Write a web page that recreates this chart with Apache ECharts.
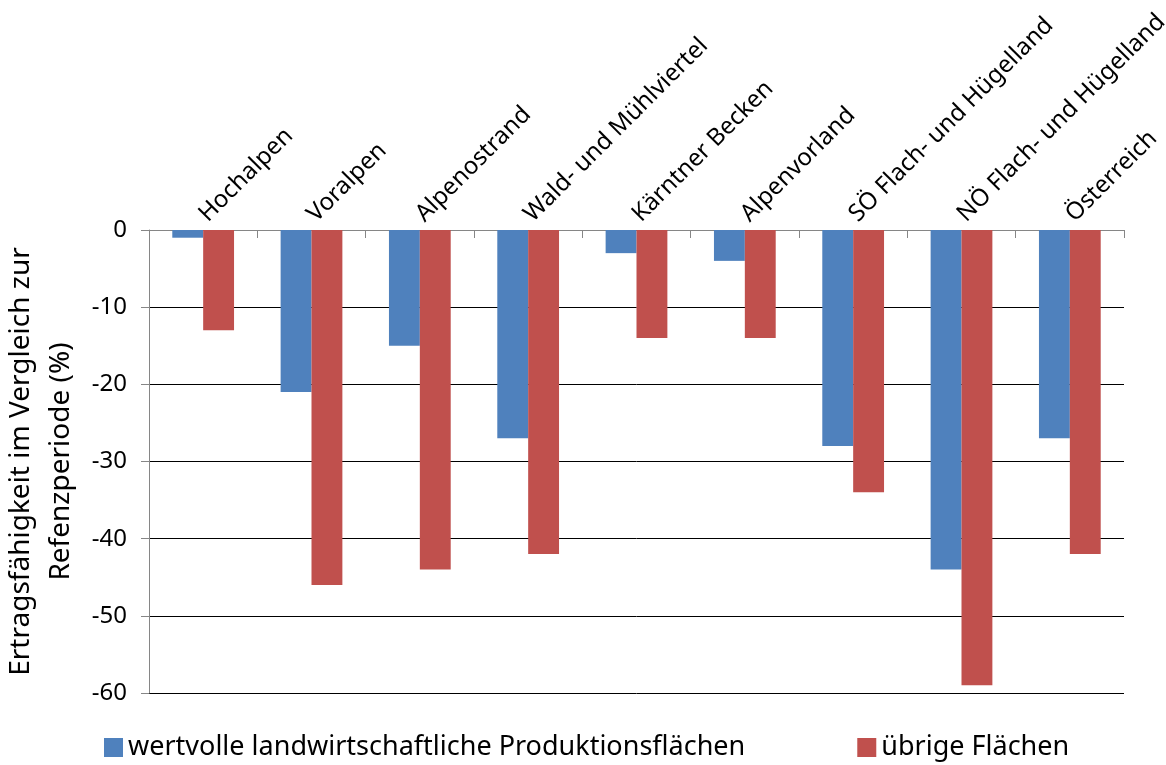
<!DOCTYPE html>
<html><head><meta charset="utf-8">
<script src="https://cdn.jsdelivr.net/npm/echarts@6/dist/echarts.min.js"></script>
<style>html,body{margin:0;padding:0;background:#fff}#c{width:1166px;height:765px}</style>
</head><body><div id="c"></div>
<script>
const categories = ['Hochalpen','Voralpen','Alpenostrand','Wald- und Mühlviertel','Kärntner Becken','Alpenvorland','SÖ Flach- und Hügelland','NÖ Flach- und Hügelland','Österreich'];
const seriesNames = ['wertvolle landwirtschaftliche Produktionsflächen','übrige Flächen'];
const valuable = [-1,-21,-15,-27,-3,-4,-28,-44,-27];
const other = [-13,-46,-44,-42,-14,-14,-34,-59,-42];
const yName = 'Ertragsfähigkeit im Vergleich zur\nRefenzperiode (%)';

const FONT = 'Noto Sans';
const chart = echarts.init(document.getElementById('c'));
chart.setOption({
  animation:false,
  textStyle:{fontFamily:FONT},
  grid:{left:149,right:42,top:230,bottom:72,containLabel:false,outerBoundsMode:'none'},
  legend:{left:99,top:729,icon:'rect',itemWidth:19,itemHeight:19,itemGap:112,
    textStyle:{fontSize:27,color:'#000',fontFamily:FONT},
    data:seriesNames},
  xAxis:{type:'category',position:'top',data:categories,
    axisLine:{lineStyle:{color:'#868686',width:1}},
    axisTick:{show:true,inside:true,length:8,lineStyle:{color:'#868686'}},
    axisLabel:{rotate:45,fontSize:24,color:'#000',margin:12,interval:0}},
  yAxis:{type:'value',min:-60,max:0,interval:10,
    name:yName,nameLocation:'middle',nameGap:62,nameRotate:90,
    nameTextStyle:{fontSize:28,color:'#000',lineHeight:40},
    axisLine:{show:true,lineStyle:{color:'#868686'}},
    axisTick:{show:true,length:8,lineStyle:{color:'#868686'}},
    axisLabel:{fontSize:24,color:'#000',margin:22},
    splitLine:{lineStyle:{color:'#000',width:1}}},
  series:[
    {name:seriesNames[0],type:'bar',data:valuable,barGap:'0%',barCategoryGap:'43%',itemStyle:{color:'#4F81BD'}},
    {name:seriesNames[1],type:'bar',data:other,barGap:'0%',barCategoryGap:'43%',itemStyle:{color:'#C0504D'}}
  ]
});
</script></body></html>
